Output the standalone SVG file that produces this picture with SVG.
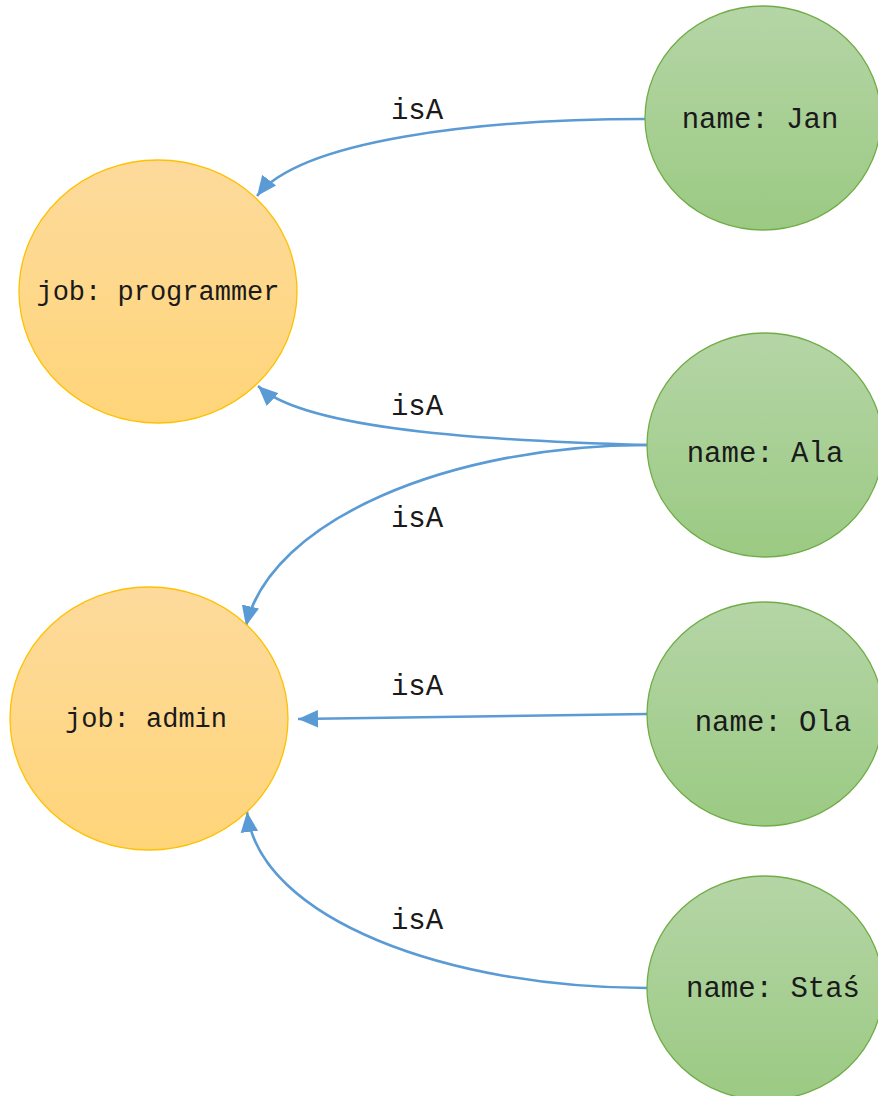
<svg xmlns="http://www.w3.org/2000/svg" width="878" height="1096" viewBox="0 0 878 1096">
<defs>
<linearGradient id="gg" x1="0" y1="0" x2="0" y2="1"><stop offset="0" stop-color="#b5d5a6"/><stop offset="1" stop-color="#9bca83"/></linearGradient>
<linearGradient id="og" x1="0" y1="0" x2="0" y2="1"><stop offset="0" stop-color="#fdda9c"/><stop offset="1" stop-color="#ffd579"/></linearGradient>
<marker id="ah" markerUnits="userSpaceOnUse" markerWidth="20" markerHeight="20" viewBox="0 0 16 14" refX="16" refY="7" orient="auto"><path d="M0,0 L16,7 L0,14 Z" fill="#5b9bd5"/></marker>
<style>
.g{fill:url(#gg);stroke:#70ad47;stroke-width:1.3}
.o{fill:url(#og);stroke:#ffc000;stroke-width:1.3}
.t{font-family:"Liberation Mono","Courier New",monospace;fill:#1a1a1a;text-anchor:middle}
.tg{font-size:29px}
.to{font-size:27px}
.l{font-family:"Liberation Mono","Courier New",monospace;fill:#1a1a1a;font-size:29px;text-anchor:middle}
.c{fill:none;stroke:#5b9bd5;stroke-width:2.6;marker-end:url(#ah)}
</style>
</defs>
<g id="connectors">
<path class="c" d="M645,119 C480,119 300,140 257,196"/>
<path class="c" d="M647,445 C450,440 300,425 258,386"/>
<path class="c" d="M647,445 C450,445 270,520 246,626"/>
<path class="c" d="M647,714 L298,719"/>
<path class="c" d="M647,988 C450,988 260,920 247,812"/>
<text class="l" x="417" y="119">isA</text>
<text class="l" x="417" y="415">isA</text>
<text class="l" x="417" y="527">isA</text>
<text class="l" x="417" y="695">isA</text>
<text class="l" x="417" y="929">isA</text>
</g>
<g id="programmer"><ellipse class="o" cx="158" cy="291.5" rx="139" ry="131.5"/><text class="t to" x="158" y="300">job: programmer</text></g>
<g id="admin"><ellipse class="o" cx="149" cy="718.5" rx="139" ry="131.5"/><text class="t to" x="146" y="727">job: admin</text></g>
<g id="jan"><ellipse class="g" cx="763" cy="118" rx="118" ry="112"/><text class="t tg" x="760" y="128">name: Jan</text></g>
<g id="ala"><ellipse class="g" cx="765" cy="445" rx="118" ry="112"/><text class="t tg" x="765" y="462">name: Ala</text></g>
<g id="ola"><ellipse class="g" cx="765" cy="714" rx="118" ry="112"/><text class="t tg" x="773" y="731">name: Ola</text></g>
<g id="stas"><ellipse class="g" cx="765" cy="988" rx="118" ry="112"/><text class="t tg" x="773" y="997">name: Staś</text></g>
</svg>
